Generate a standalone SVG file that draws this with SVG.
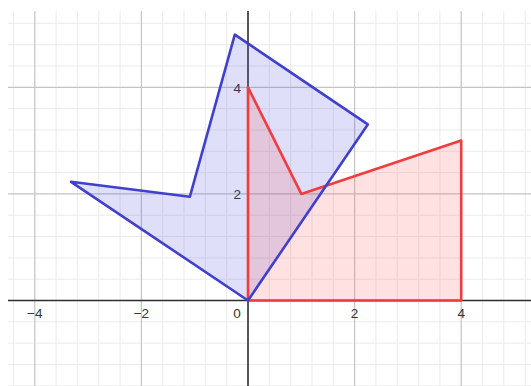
<svg xmlns="http://www.w3.org/2000/svg" width="531" height="386" viewBox="0 0 531 386">
<style>
.minor{stroke:#ebebeb;stroke-width:1;fill:none}
.major{stroke:#c4c4c4;stroke-width:1.2;fill:none}
.axis{stroke:#2e2e2e;stroke-width:1.6;fill:none}
.lbl{font-family:"Liberation Sans",Arial,sans-serif;font-size:13.5px;fill:#333}
.red{fill:#ff4d4d;fill-opacity:0.17;stroke:#f03c3c;stroke-width:2.6;stroke-linejoin:round}
.bluefill{fill:#5050e0;fill-opacity:0.18;stroke:none}
.blueline{fill:none;stroke:#4040cc;stroke-width:2.6;stroke-linejoin:round}
</style>
<defs>
<polygon id="blueShape" points="248,300.5 367.8,124.4 234.8,34.6 189.8,196.8 71,181.8"/>
</defs>
<rect width="531" height="386" fill="#fff"/>
<g id="grid">
<path class="minor" d="M13.5 11V386M56.1 11V386M77.4 11V386M98.8 11V386M120.1 11V386M162.7 11V386M184 11V386M205.4 11V386M226.7 11V386M269.3 11V386M290.6 11V386M312 11V386M333.3 11V386M375.9 11V386M397.2 11V386M418.6 11V386M439.9 11V386M482.5 11V386M503.8 11V386M525.2 11V386"/>
<path class="minor" d="M8 23.3H531M8 44.7H531M8 66H531M8 108.6H531M8 129.9H531M8 151.3H531M8 172.6H531M8 215.2H531M8 236.5H531M8 257.9H531M8 279.2H531M8 321.8H531M8 343.1H531M8 364.5H531M8 385.8H531"/>
<path class="major" d="M34.8 11V386M141.4 11V386M354.6 11V386M461.2 11V386M8 87.3H531M8 193.9H531"/>
<path class="axis" d="M8 300.5H531M248 11V386"/>
</g>
<g id="labels">
<text class="lbl" x="34.8" y="318" text-anchor="middle">−4</text>
<text class="lbl" x="141.4" y="318" text-anchor="middle">−2</text>
<text class="lbl" x="237" y="318" text-anchor="middle">0</text>
<text class="lbl" x="354.6" y="318" text-anchor="middle">2</text>
<text class="lbl" x="461.2" y="318" text-anchor="middle">4</text>
<text class="lbl" x="241" y="92.5" text-anchor="end">4</text>
<text class="lbl" x="241" y="199" text-anchor="end">2</text>
</g>
<g id="blue-polygon-fill">
<use href="#blueShape" class="bluefill"/>
</g>
<g id="red-polygon">
<polygon class="red" points="248,300.5 248,87.3 301.3,193.9 461.2,140.6 461.2,300.5"/>
</g>
<g id="blue-polygon">
<use href="#blueShape" class="blueline"/>
</g>
</svg>
